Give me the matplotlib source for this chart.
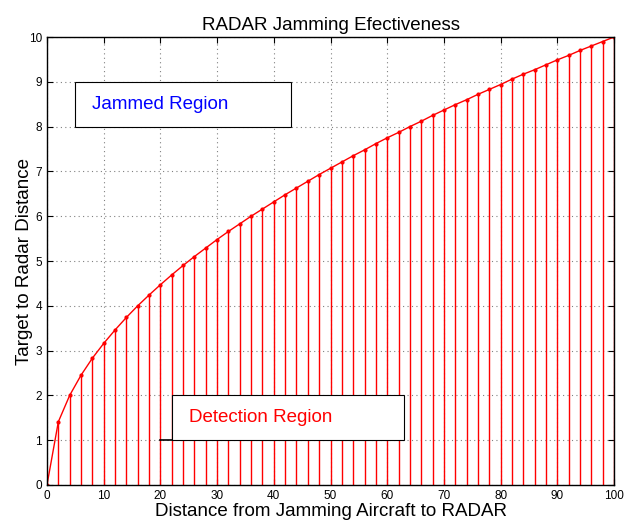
import matplotlib
matplotlib.use('Agg')
import matplotlib.pyplot as plt
from matplotlib.patches import Rectangle

plt.rcParams['font.family'] = ['Liberation Sans', 'DejaVu Sans']

# distance from jamming aircraft to radar
distance = [0, 2, 4, 6, 8, 10, 12, 14, 16, 18, 20, 22, 24, 26, 28, 30, 32, 34,
            36, 38, 40, 42, 44, 46, 48, 50, 52, 54, 56, 58, 60, 62, 64, 66, 68,
            70, 72, 74, 76, 78, 80, 82, 84, 86, 88, 90, 92, 94, 96, 98, 100]
# target to radar distance
target = [0.00, 1.41, 2.00, 2.45, 2.83, 3.16, 3.46, 3.74, 4.00, 4.24, 4.47,
          4.69, 4.90, 5.10, 5.29, 5.48, 5.66, 5.83, 6.00, 6.16, 6.32, 6.48,
          6.63, 6.78, 6.93, 7.07, 7.21, 7.35, 7.48, 7.62, 7.75, 7.87, 8.00,
          8.12, 8.25, 8.37, 8.49, 8.60, 8.72, 8.83, 8.94, 9.06, 9.17, 9.27,
          9.38, 9.49, 9.59, 9.70, 9.80, 9.90, 10.00]

fig = plt.figure(figsize=(6.24, 5.23), dpi=100)
ax = fig.add_axes([0.0753, 0.0727, 0.9087, 0.8565])

ax.vlines(distance, 0, target, color='red', linewidth=1.0)
ax.plot(distance, target, color='red', linewidth=1.0, marker='.', markersize=4)

ax.set_xlim(0, 100)
ax.set_ylim(0, 10)
ax.set_xticks(range(0, 101, 10))
ax.set_yticks(range(0, 11))
ax.grid(True, linestyle=(0, (1, 3)), color='gray', linewidth=0.8)
ax.tick_params(direction='in', labelsize=8.5, length=4, top=True, right=True)
for s in ax.spines.values():
    s.set_linewidth(1.0)

# text boxes
ax.add_patch(Rectangle((5, 8), 38, 1, facecolor='white', edgecolor='black',
                       linewidth=0.8, zorder=3))
ax.text(8, 8.5, 'Jammed Region', color='blue', fontsize=13.5, va='center', zorder=4)
ax.add_patch(Rectangle((22, 1), 41, 1, facecolor='white', edgecolor='black',
                       linewidth=0.8, zorder=3))
ax.plot([20, 22], [1, 1], color='black', linewidth=1.2, zorder=4)
ax.text(25, 1.5, 'Detection Region', color='red', fontsize=13.5, va='center', zorder=4)

ax.set_title('RADAR Jamming Efectiveness', fontsize=13.5, pad=5)
ax.set_xlabel('Distance from Jamming Aircraft to RADAR', fontsize=13.5, labelpad=1)
ax.set_ylabel('Target to Radar Distance', fontsize=13.5)
ax.yaxis.set_label_coords(-0.025, 0.5)

fig.savefig('out.png', dpi=100)
